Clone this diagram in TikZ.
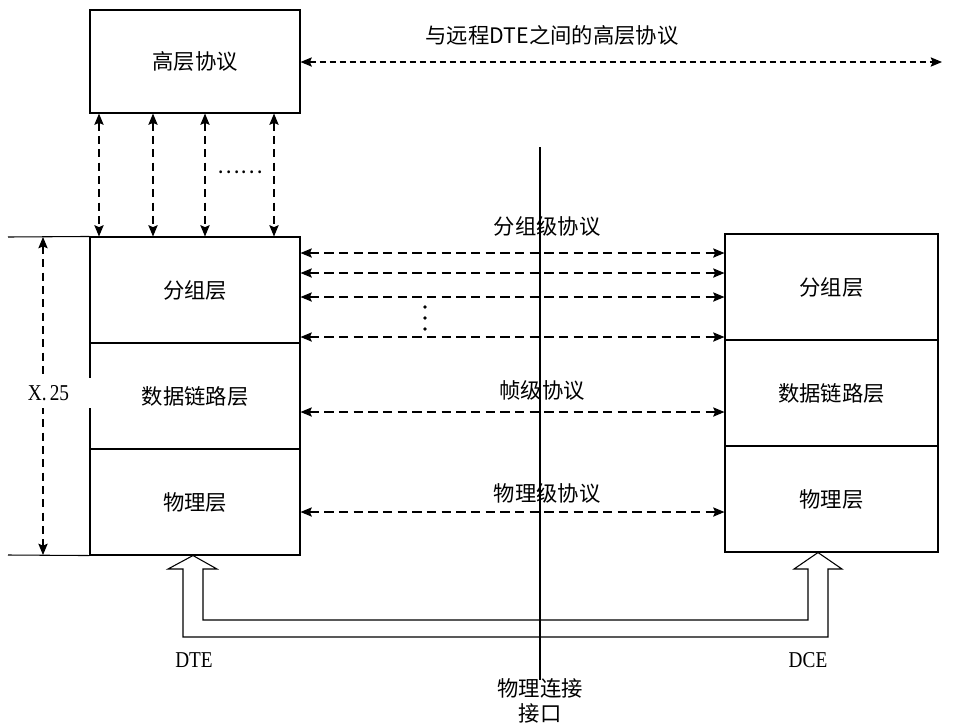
\documentclass[tikz,border=0pt]{standalone}
\usepackage{fontspec}
\setmainfont{Noto Sans CJK SC}
\newfontfamily\latinserif{Liberation Serif}
\usetikzlibrary{arrows.meta}
\newcommand{\narrowlbl}[1]{\scalebox{0.85}[1]{#1}}
\begin{document}
\begin{tikzpicture}[x=0.75pt,y=-0.75pt,
  layer/.style={draw, line width=0.8pt, minimum width=157.5pt, minimum height=79.5pt, inner sep=0pt, font=\fontsize{16}{19}\selectfont},
  dcelayer/.style={layer, minimum width=159.75pt},
  proto/.style={line width=0.8pt, dash pattern=on 6pt off 4pt, {Stealth[length=8.5pt,width=7pt,inset=1.5pt]}-{Stealth[length=8.5pt,width=7pt,inset=1.5pt]}},
  lbl/.style={font=\fontsize{16}{19}\selectfont, inner sep=1pt},
  latinlbl/.style={font=\latinserif\fontsize{17}{20}\selectfont, inner sep=1pt},
  plain/.style={line width=0.8pt}]
\useasboundingbox (0,0) rectangle (972,726);

% top box
\node[layer, minimum height=77.25pt] (top) at (195,61.5) {高层协议};

% DTE stack
\node[layer] (dte1) at (195,290) {分组层};
\node[layer] (dte2) at (195,396) {数据链路层};
\node[layer] (dte3) at (195,502) {物理层};

% DCE stack
\node[dcelayer] (dce1) at (831.5,287) {分组层};
\node[dcelayer] (dce2) at (831.5,393) {数据链路层};
\node[dcelayer] (dce3) at (831.5,499) {物理层};

% centre line
\coordinate (cl1) at (540,147);
\coordinate (cl2) at (540,680);
\draw[plain] (cl1) -- (cl2);

% top long arrow
\coordinate (farright) at (942,62);
\draw[proto, dash pattern=on 4.5pt off 3pt] (top.east |- farright) -- (farright);
\node[lbl] (remote) at (552,35) {与远程DTE之间的高层协议};

% vertical arrows top <-> packet layer
\foreach \x in {99,153,205,274} {
  \draw[proto] (top.south -| \x,0) -- (dte1.north -| \x,0);
}
\node[lbl] (hdots) at (240,172) {……};

% packet level arrows
\foreach \y in {253,273,297,337} {
  \draw[proto, dash pattern=on 7pt off 4pt] (dte1.east |- 0,\y) -- (dce1.west |- 0,\y);
}
\foreach \y in {307,318,329} {
  \fill (425,\y) circle (1.4pt);
}
\node[lbl] (pkt) at (547,226) {分组级协议};

% frame level
\draw[proto, dash pattern=on 7pt off 4pt] (dte2.east |- 0,412) -- (dce2.west |- 0,412);
\node[lbl] (frm) at (542,390) {帧级协议};

% physical level
\draw[proto, dash pattern=on 7pt off 4pt] (dte3.east |- 0,512) -- (dce3.west |- 0,512);
\node[lbl] (phy) at (547,493) {物理级协议};

% X.25 bracket
\coordinate (xl1) at (8,237);
\coordinate (xl2) at (8,555);
\draw[plain] (xl1) -- (dte1.north west);
\draw[plain] (xl2) -- (dte3.south west);
\coordinate (xa1) at (43,237);
\coordinate (xa2) at (43,555);
\draw[proto] (xa1) -- (xa2);
\node[latinlbl, fill=white, minimum width=67pt, minimum height=22.5pt] (x25) at (48.5,393) {\narrowlbl{X.\,25}};

% physical interface block arrow
\draw[plain, line join=miter]
  (183,569) -- (183,637) -- (828,637) -- (828,569) -- (842,569) -- (dce3.south -| 818,0)
  -- (794,569) -- (808,569) -- (808,620) -- (203,620) -- (203,569) -- (217,569)
  -- (dte3.south -| 193,0) -- (168,569) -- cycle;

\node[latinlbl] (dte) at (194,660) {\narrowlbl{DTE}};
\node[latinlbl] (dce) at (808,660) {\narrowlbl{DCE}};
\node[lbl, align=center] (iface) at (540,701) {物理连接\\接口};
\end{tikzpicture}
\end{document}
